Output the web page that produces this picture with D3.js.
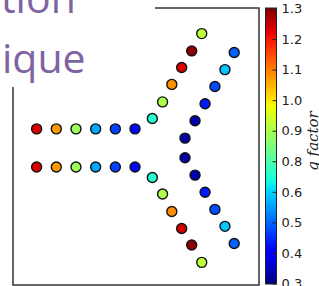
<!DOCTYPE html>
<html>
<head>
<meta charset="utf-8" />
<title></title>
<style>
html, body {
    padding: 0px;
    margin: 0px;
    background: #fff;
}
svg { display: block; }
.cbar text {
    font-family: "DejaVu Sans", sans-serif;
    font-size: 13px;
    fill: #222;
}
</style>
</head>
<body>
<div id="chart"></div>
<script src="https://d3js.org/d3.v7.min.js"></script>
<script>
// site positions (arbitrary length units) and g factor of each site
var xs = [1.2, 2.2, 3.2, 4.2, 5.2, 6.2,   1.2, 2.2, 3.2, 4.2, 5.2, 6.2,
          7.08, 7.08,
          7.6, 8.07, 8.57, 9.08, 9.59,   7.6, 8.07, 8.57, 9.08, 9.59,
          8.74, 9.25, 9.76, 10.26, 10.77, 11.24,   8.74, 9.25, 9.76, 10.26, 10.77, 11.24]
var ys = [0.97, 0.97, 0.97, 0.97, 0.97, 0.97,   -0.97, -0.97, -0.97, -0.97, -0.97, -0.97,
          1.5, -1.5,
          2.34, 3.23, 4.09, 4.93, 5.81,   -2.34, -3.23, -4.09, -4.93, -5.81,
          0.5, 1.38, 2.25, 3.12, 3.98, 4.85,   -0.5, -1.38, -2.25, -3.12, -3.98, -4.85]
var gs = [1.22, 1.05, 0.84, 0.59, 0.49, 0.43,   1.22, 1.05, 0.84, 0.59, 0.49, 0.43,
          0.70, 0.70,
          0.86, 1.06, 1.22, 1.29, 0.88,   0.86, 1.06, 1.23, 1.29, 0.88,
          0.33, 0.34, 0.45, 0.50, 0.62, 0.52,   0.33, 0.34, 0.45, 0.50, 0.62, 0.52]

var cbarLabels = ["1.3", "1.2", "1.1", "1.0", "0.9", "0.8", "0.6", "0.5", "0.4", "0.3"]
var gMin = 0.3, gMax = 1.3

var titleLines = ["tion", "ique"]

!(function(){
    "use strict"

    var W = 319, H = 286
    var svg = d3.select("#chart").append("svg")
        .attr("width", W).attr("height", H)

    // matplotlib jet
    var jr = d3.scaleLinear().domain([0, 0.35, 0.66, 0.89, 1]).range([0, 0, 1, 1, 0.5]).clamp(true)
    var jg = d3.scaleLinear().domain([0, 0.125, 0.375, 0.64, 0.91, 1]).range([0, 0, 1, 1, 0, 0]).clamp(true)
    var jb = d3.scaleLinear().domain([0, 0.11, 0.34, 0.65, 1]).range([0.5, 1, 1, 0, 0]).clamp(true)
    function jet(t) {
        return d3.rgb(jr(t) * 255, jg(t) * 255, jb(t) * 255).formatHex()
    }
    var norm = d3.scaleLinear().domain([gMin, gMax]).range([0, 1]).clamp(true)

    var x = d3.scaleLinear().domain([0, 12.5]).range([13, 259])
    var y = d3.scaleLinear().domain([-6.96, 7.11]).range([285, 8])

    // axes frame
    svg.append("rect")
        .attr("x", x(0)).attr("y", y(7.11))
        .attr("width", x(12.5) - x(0)).attr("height", y(-6.96) - y(7.11))
        .attr("fill", "none").attr("stroke", "#333").attr("stroke-width", 1.5)

    svg.append("g").selectAll("circle")
        .data(d3.range(xs.length))
        .enter()
        .append("circle")
        .attr("cx", function(i){ return x(xs[i]) })
        .attr("cy", function(i){ return y(ys[i]) })
        .attr("r", 5)
        .attr("fill", function(i){ return jet(norm(gs[i])) })
        .attr("stroke", "#111")
        .attr("stroke-width", 1.4)

    // colorbar
    var cb = svg.append("g").attr("class", "cbar")
    var cy = d3.scaleLinear().domain([gMin, gMax]).range([284, 8])
    var grad = svg.append("defs").append("linearGradient")
        .attr("id", "jetgrad").attr("x1", 0).attr("y1", 1).attr("x2", 0).attr("y2", 0)
    d3.range(0, 1.0001, 0.02).forEach(function(t){
        grad.append("stop").attr("offset", t).attr("stop-color", jet(t))
    })
    cb.append("rect")
        .attr("x", 265.5).attr("y", cy(gMax))
        .attr("width", 11).attr("height", cy(gMin) - cy(gMax))
        .attr("fill", "url(#jetgrad)")
        .attr("stroke", "#222").attr("stroke-width", 1)

    var tickPos = d3.scalePoint().domain(cbarLabels).range([8.5, 283.5])
    var axis = d3.axisRight(tickPos).tickSize(-4).tickPadding(8)
    var ag = cb.append("g").attr("transform", "translate(276.5,0)").call(axis)
    ag.select(".domain").remove()
    ag.selectAll(".tick line").attr("stroke", "#222")
    ag.selectAll(".tick text").attr("x", 5).attr("text-anchor", "start")

    cb.append("text")
        .attr("transform", "translate(318,141) rotate(-90)")
        .attr("text-anchor", "middle")
        .style("font-family", "'DejaVu Serif', serif")
        .style("font-style", "italic")
        .style("font-size", "15px")
        .text("g factor")

    // title box of the slide, covering the top-left of the plot
    svg.append("rect")
        .attr("x", 0).attr("y", 0).attr("width", 155).attr("height", 87)
        .attr("fill", "#fff")

    svg.selectAll(".title")
        .data(titleLines)
        .enter()
        .append("text")
        .attr("class", "title")
        .attr("x", function(d, i){ return i === 0 ? 1 : 2 })
        .attr("y", function(d, i){ return i === 0 ? 13 : 73 })
        .style("font-family", "'Open Sans', sans-serif")
        .style("font-size", "41px")
        .attr("fill", "#8064a2")
        .text(function(d){ return d })

}());
</script>
</body>
</html>
